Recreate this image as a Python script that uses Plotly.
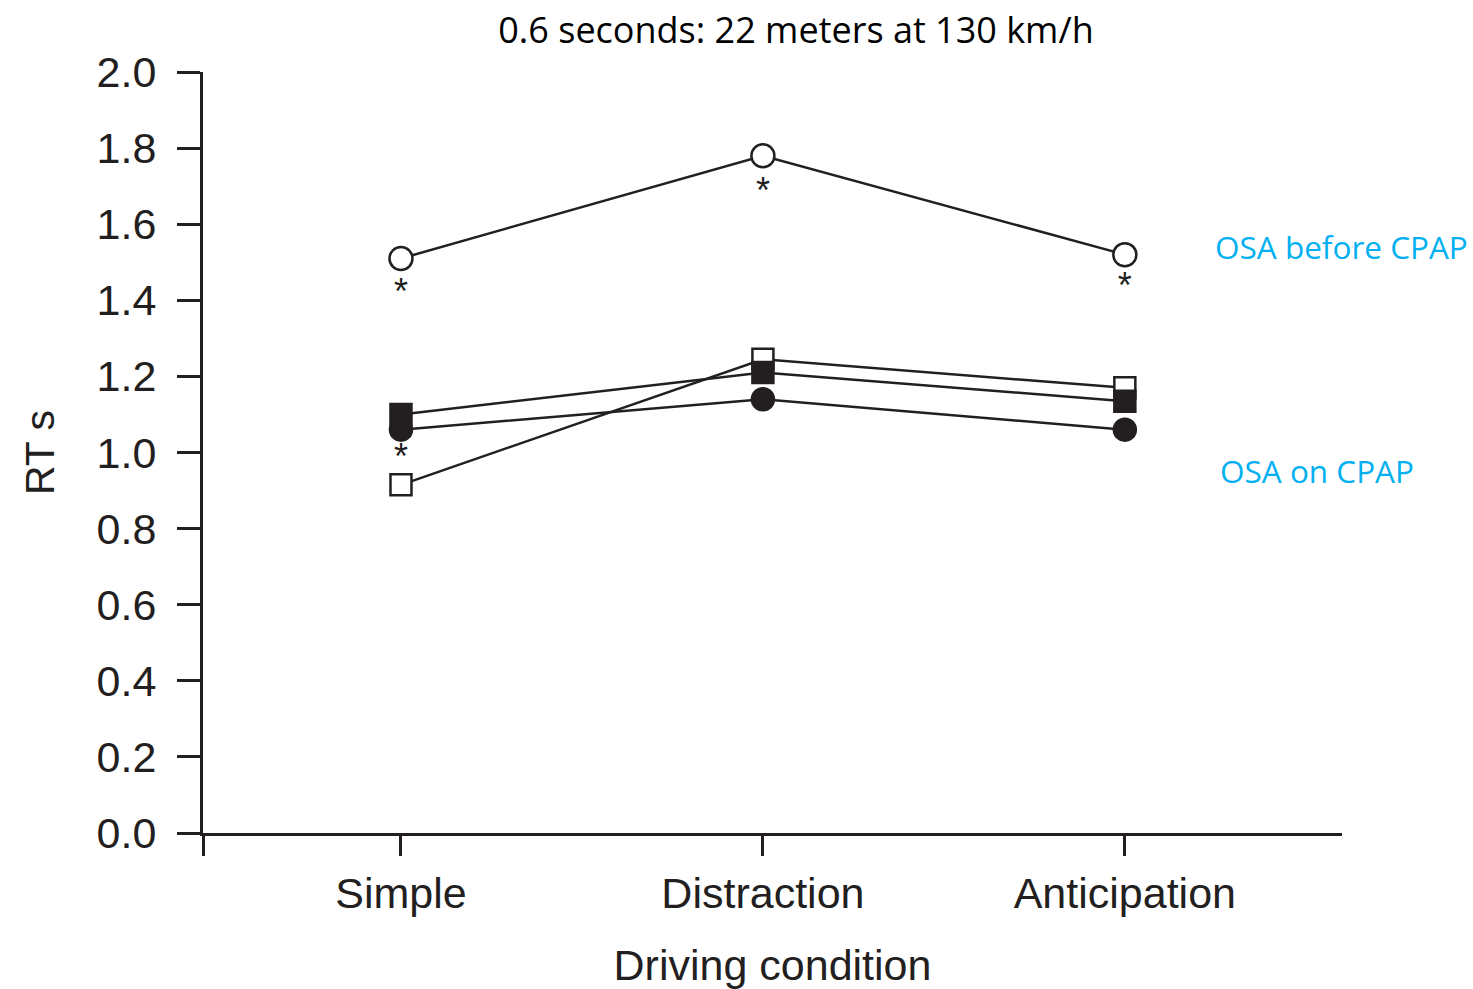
import plotly.graph_objects as go

conditions = ["Simple", "Distraction", "Anticipation"]
x_pos = [0, 1, 2]

osa_before_open_circle = [1.51, 1.78, 1.52]
filled_square = [1.10, 1.21, 1.135]
filled_circle = [1.06, 1.14, 1.06]
open_square = [0.915, 1.245, 1.17]

star_x = [0, 1, 2, 0]
star_y = [1.415, 1.68, 1.43, 0.98]

y_ticks = [0.0, 0.2, 0.4, 0.6, 0.8, 1.0, 1.2, 1.4, 1.6, 1.8, 2.0]
y_tick_labels = ["0.0", "0.2", "0.4", "0.6", "0.8", "1.0", "1.2", "1.4", "1.6", "1.8", "2.0"]

INK = "#231f20"
BLUE = "#00B0F0"
AXFONT = "Liberation Sans, Arial, sans-serif"

fig = go.Figure()

def add_series(y, symbol, fill, name, size):
    fig.add_trace(go.Scatter(
        x=x_pos, y=y, mode="lines+markers", name=name,
        line=dict(color=INK, width=2.5),
        marker=dict(symbol=symbol, size=size, color=fill,
                    line=dict(color=INK, width=2.5)),
        cliponaxis=False, showlegend=False))

add_series(filled_circle, "circle", INK, "filled circle", 22)
add_series(open_square, "square", "white", "open square", 21)
add_series(filled_square, "square", INK, "filled square", 21)
add_series(osa_before_open_circle, "circle", "white", "OSA before CPAP", 23)

fig.add_trace(go.Scatter(
    x=star_x, y=star_y, mode="text", text=["*"] * len(star_x),
    textfont=dict(family=AXFONT, size=36, color=INK),
    textposition="middle center", showlegend=False, hoverinfo="skip"))

pw = 1473 - 203 - 131
ph = 989 - 72 - 156
anns = []
for txt, px, py in [("OSA before CPAP", 1213, 247), ("OSA on CPAP", 1218, 470)]:
    anns.append(dict(text=txt, x=(px - 203) / pw, y=(833 - py) / ph,
                     xref="paper", yref="paper", xanchor="left", yanchor="middle",
                     showarrow=False,
                     font=dict(family="Open Sans, sans-serif", size=31.5, color=BLUE)))

fig.update_layout(
    width=1473, height=989,
    margin=dict(l=203, r=131, t=72, b=156, autoexpand=False),
    paper_bgcolor="white", plot_bgcolor="white",
    title=dict(text="0.6 seconds: 22 meters at 130 km/h",
               font=dict(family="Open Sans, sans-serif", size=36, color="black"),
               x=796 / 1473, xanchor="center", y=1 - 30 / 989, yanchor="middle"),
    annotations=anns,
)

fig.update_xaxes(
    range=[-0.547, 2.6], automargin=False,
    tickmode="array", tickvals=[-0.545] + x_pos, ticktext=[""] + conditions,
    ticks="outside", ticklen=20, tickwidth=3, tickcolor=INK,
    showline=True, linecolor=INK, linewidth=3,
    showgrid=False, zeroline=False,
    tickfont=dict(family=AXFONT, size=43, color=INK),
    title=dict(text="Driving condition", standoff=36,
               font=dict(family=AXFONT, size=43, color=INK)),
)
fig.update_yaxes(
    range=[0, 2], automargin=False,
    tickmode="array", tickvals=y_ticks, ticktext=y_tick_labels,
    ticks="outside", ticklen=23, tickwidth=3, tickcolor=INK,
    ticklabelstandoff=12,
    showline=True, linecolor=INK, linewidth=3,
    showgrid=False, zeroline=False,
    tickfont=dict(family=AXFONT, size=43, color=INK),
    title=dict(text="RT s", standoff=30,
               font=dict(family=AXFONT, size=41, color=INK)),
)

fig.write_html("out.html")
